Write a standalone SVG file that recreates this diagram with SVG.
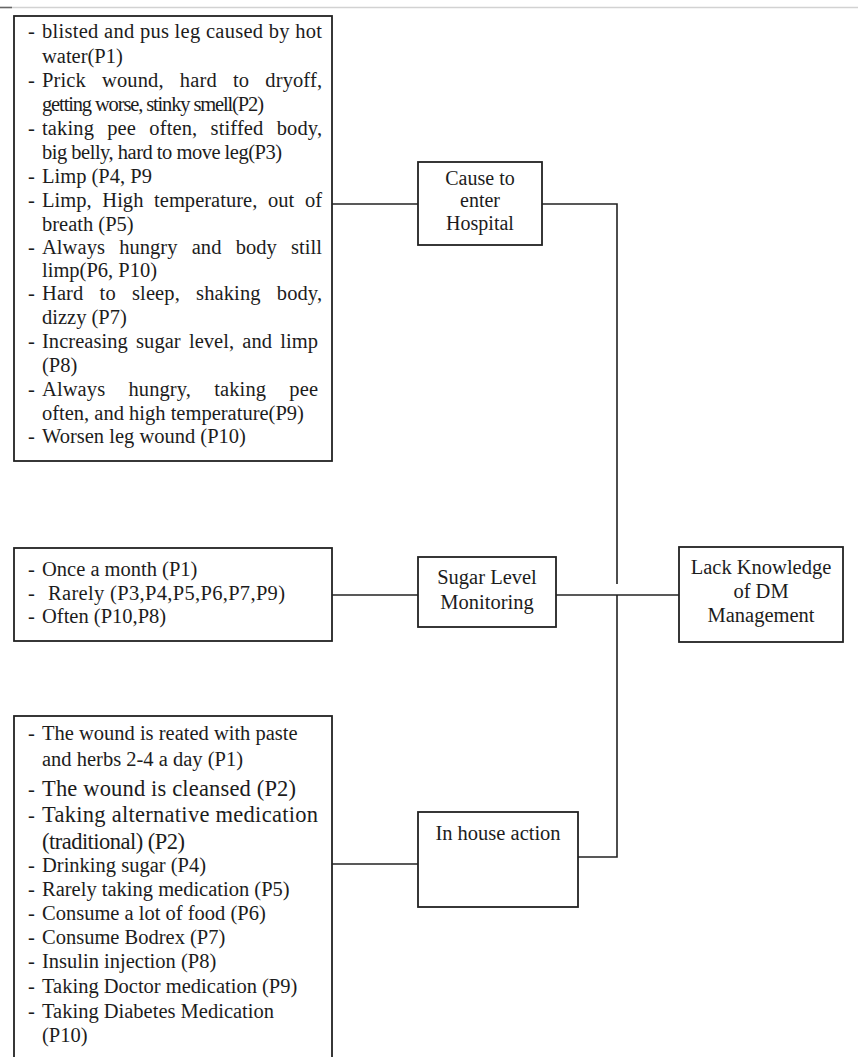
<svg xmlns="http://www.w3.org/2000/svg" width="858" height="1057" viewBox="0 0 858 1057">
<style>
.t{font-family:"Liberation Serif","Times New Roman",serif;font-size:20.5px;fill:#1c1c1c}
.big{font-size:22.5px}
.c{text-anchor:middle}
.box{fill:#fff;stroke:#222;stroke-width:1.8}
.conn{fill:none;stroke:#222;stroke-width:1.6}
</style>
<rect x="0" y="0" width="858" height="1057" fill="#fff"/>
<line x1="0" y1="7.5" x2="858" y2="7.5" stroke="#d2d2d2" stroke-width="1.5"/>
<line x1="0" y1="7.5" x2="12" y2="7.5" stroke="#666" stroke-width="1.5"/>

<g id="connectors">
<polyline class="conn" points="332,204 418,204"/>
<polyline class="conn" points="542,204 617,204 617,584"/>
<polyline class="conn" points="332,595 418,595"/>
<polyline class="conn" points="556,595 679,595"/>
<polyline class="conn" points="578,857 617,857 617,595"/>
<polyline class="conn" points="332,864 418,864"/>
</g>

<g id="symptoms">
<rect class="box" x="14" y="16" width="318" height="445"/>
<text class="t" x="28" y="38">-</text><text class="t" x="42" y="38" textLength="280">blisted and pus leg caused by hot</text>
<text class="t" x="42" y="63">water(P1)</text>
<text class="t" x="28" y="87">-</text><text class="t" x="42" y="87" word-spacing="11" textLength="280">Prick wound, hard to dryoff,</text>
<text class="t" x="42" y="111" textLength="222">getting worse, stinky smell(P2)</text>
<text class="t" x="28" y="135">-</text><text class="t" x="42" y="135" word-spacing="8" textLength="280">taking pee often, stiffed body,</text>
<text class="t" x="42" y="159" textLength="240">big belly, hard to move leg(P3)</text>
<text class="t" x="28" y="183">-</text><text class="t" x="42" y="183">Limp (P4, P9</text>
<text class="t" x="28" y="207">-</text><text class="t" x="42" y="207" word-spacing="5.5" textLength="280">Limp, High temperature, out of</text>
<text class="t" x="42" y="231">breath (P5)</text>
<text class="t" x="28" y="254">-</text><text class="t" x="42" y="254" word-spacing="9" textLength="280">Always hungry and body still</text>
<text class="t" x="42" y="277">limp(P6, P10)</text>
<text class="t" x="28" y="300">-</text><text class="t" x="42" y="300" word-spacing="11" textLength="280">Hard to sleep, shaking body,</text>
<text class="t" x="42" y="324">dizzy (P7)</text>
<text class="t" x="28" y="348">-</text><text class="t" x="42" y="348" word-spacing="3" textLength="276">Increasing sugar level, and limp</text>
<text class="t" x="42" y="372">(P8)</text>
<text class="t" x="28" y="396">-</text><text class="t" x="42" y="396" word-spacing="18" textLength="276">Always hungry, taking pee</text>
<text class="t" x="42" y="420">often, and high temperature(P9)</text>
<text class="t" x="28" y="443">-</text><text class="t" x="42" y="443">Worsen leg wound (P10)</text>
</g>

<g id="cause">
<rect class="box" x="418" y="162" width="124" height="83"/>
<text class="t c" x="480" y="185" style="font-size:20px">Cause to</text>
<text class="t c" x="480" y="207" style="font-size:20px">enter</text>
<text class="t c" x="480" y="230" style="font-size:20px">Hospital</text>
</g>

<g id="monitoring-list">
<rect class="box" x="14" y="548" width="318" height="93"/>
<text class="t" x="28" y="576">-</text><text class="t" x="42" y="576">Once a month (P1)</text>
<text class="t" x="28" y="600">-</text><text class="t" x="48" y="600" textLength="237">Rarely (P3,P4,P5,P6,P7,P9)</text>
<text class="t" x="28" y="623">-</text><text class="t" x="42" y="623">Often (P10,P8)</text>
</g>

<g id="sugar">
<rect class="box" x="418" y="557" width="138" height="70"/>
<text class="t c" x="487" y="584">Sugar Level</text>
<text class="t c" x="487" y="609">Monitoring</text>
</g>

<g id="lack">
<rect class="box" x="679" y="547" width="164" height="95"/>
<text class="t c" x="761" y="574">Lack Knowledge</text>
<text class="t c" x="761" y="598">of DM</text>
<text class="t c" x="761" y="622">Management</text>
</g>

<g id="actions-list">
<rect class="box" x="14" y="716" width="318" height="360"/>
<text class="t" x="28" y="740">-</text><text class="t" x="42" y="740">The wound is reated with paste</text>
<text class="t" x="42" y="766">and herbs 2-4 a day (P1)</text>
<text class="t" x="28" y="796">-</text><text class="t big" x="42" y="796" textLength="254">The wound is cleansed (P2)</text>
<text class="t" x="28" y="822">-</text><text class="t big" x="42" y="822" textLength="276">Taking alternative medication</text>
<text class="t big" x="42" y="849" textLength="143">(traditional) (P2)</text>
<text class="t" x="28" y="872">-</text><text class="t" x="42" y="872">Drinking sugar (P4)</text>
<text class="t" x="28" y="896">-</text><text class="t" x="42" y="896">Rarely taking medication (P5)</text>
<text class="t" x="28" y="920">-</text><text class="t" x="42" y="920">Consume a lot of food (P6)</text>
<text class="t" x="28" y="944">-</text><text class="t" x="42" y="944">Consume Bodrex (P7)</text>
<text class="t" x="28" y="968">-</text><text class="t" x="42" y="968">Insulin injection (P8)</text>
<text class="t" x="28" y="993">-</text><text class="t" x="42" y="993">Taking Doctor medication (P9)</text>
<text class="t" x="28" y="1018">-</text><text class="t" x="42" y="1018">Taking Diabetes Medication</text>
<text class="t" x="42" y="1042">(P10)</text>
</g>

<g id="inhouse">
<rect class="box" x="418" y="812" width="160" height="95"/>
<text class="t c" x="498" y="840">In house action</text>
</g>
</svg>
